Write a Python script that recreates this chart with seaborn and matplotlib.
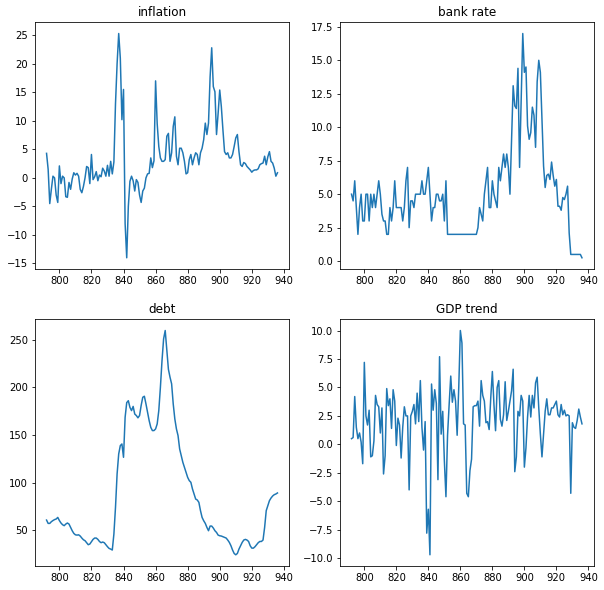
import matplotlib
matplotlib.use("Agg")
import matplotlib.pyplot as plt
import seaborn as sns
import pandas as pd

# one value per year, 792 .. 936
years = list(range(792, 937))

inflation = [
    4.3, 1.5, -4.5, -2, 0.3, 0, -3, -4.3, 2.1, -1,
    0.3, 0, -3.3, -3.4, -0.8, -2, -0.2, 0.9, 0.5, 0.8,
    0.3, -2, -2.6, -1.5, 0, 2, 1.8, -1, 4.1, -0.3,
    0.2, 1.1, -0.5, 0.5, 0.2, 1.7, 1.2, 0.3, 2.2, 0.3,
    2.9, 0.7, 2.8, 13, 20, 25.3, 21, 10.2, 15.5, -8,
    -14, -5, -0.6, 0.3, -0.5, -2.3, -0.3, -0.8, -3, -4.3,
    -2.3, -1.8, 0, 0.7, 0.8, 3.5, 1.8, 3, 17, 9.5,
    5.5, 3.5, 2.9, 2.9, 3.2, 7.3, 7.8, 2.9, 4.4, 9,
    10.7, 3.8, 2.3, 5.2, 5.2, 4.4, 2.9, 0.7, 0.9, 3.2,
    4.1, 2.3, 3.5, 4.4, 4.1, 2.3, 4.4, 5.2, 6.7, 9.6,
    7.6, 9.6, 17.7, 22.8, 16, 15.1, 7.6, 11.3, 15.4, 12.5,
    8.4, 4.6, 4.1, 4.4, 3.5, 3.5, 4.1, 5.5, 7, 7.6,
    4.6, 2.3, 2, 2.7, 2.5, 2, 1.7, 1.4, 1, 1.3,
    1.4, 1.4, 1.6, 2.3, 2.5, 2.6, 3.8, 2.3, 3.7, 4.6,
    2.9, 2.6, 1.7, 0.3, 0.9,
]

bank_rate = [
    5, 4.5, 6, 4, 2, 4, 5, 3, 3, 5,
    5, 3, 5, 4, 5, 4, 5, 6, 5, 3.5,
    3, 3, 2, 2, 4, 3, 4, 6, 4, 4,
    4, 4, 3, 4, 6, 7, 2.5, 4.5, 4.5, 4,
    5, 5, 5, 5, 6, 5, 5, 6, 7, 5,
    3, 4, 4, 5, 5, 4.5, 4.5, 5, 3, 6,
    2, 2, 2, 2, 2, 2, 2, 2, 2, 2,
    2, 2, 2, 2, 2, 2, 2, 2,
    2, 2.5, 4, 3.5, 3, 5, 6, 7, 4, 4,
    6, 5, 4.5, 4, 7, 6, 7, 8, 7, 8,
    7, 5, 9, 13.1, 11.6, 11.4, 14.4, 7, 12, 17,
    14.1, 14.5, 10.1, 9.1, 9.6, 11.5, 10.9, 8.5, 13.4, 15,
    14.1, 10.5, 7.1, 5.5, 6.4, 6.5, 6.1, 7.4, 6.4, 5.6,
    6.1, 4.1, 4.1, 3.8, 4.75, 4.6, 5, 5.6, 2.1, 0.5,
    0.5, 0.5, 0.5, 0.5, 0.5, 0.5, 0.25,
]

debt = [
    60.5, 57, 57, 58.8, 60, 61, 61.6, 63.3, 60, 57.4,
    55.6, 54.6, 56.3, 57.4, 56.3, 52.8, 49.3, 46.5, 45, 44.7,
    45, 43.7, 41.6, 39.8, 38.8, 36.7, 34.6, 35.3, 37.7, 40.2,
    41.6, 41.6, 40.2, 38, 36.7, 37.4, 36.7, 34.6, 32.5, 30.7,
    30, 29, 45.8, 73.9, 109, 130, 138.8, 140.5, 126.5, 168.6,
    184, 186, 179, 175.6, 180, 172, 170.4, 168, 170.4, 181,
    189.6, 190.7, 182.6, 173.9, 165, 158, 154.6, 154.6, 156.3, 161.6,
    175.6, 200, 228, 251, 259.8, 240, 219, 210.7, 203.7, 182.6,
    166.8, 156.3, 149.3, 135.3, 128.2, 121.2, 116, 110.7, 105.4, 102,
    100.2, 93.2, 87.9, 82.6, 81.6, 79.1, 70.4, 63.3, 59.8, 57,
    52.8, 49.3, 54.2, 54.2, 52.1, 49.3, 47.5, 44.7, 44, 43.7,
    43, 42.3, 41.6, 39.5, 37, 33.5, 29, 25.4, 24, 25.4,
    30, 33.5, 37, 39.5, 40.2, 39.5, 38, 33.5, 31, 31,
    32.5, 34.6, 36.7, 38, 38, 39.5, 52.8, 70.4, 75.6, 80.9,
    83.7, 85.8, 87.2, 87.9, 89,
]

gdp_trend = [
    0.5, 0.6, 4.2, 1.5, 0.5, 1.0, 0.2, -1.7, 7.2, 2.5,
    1.7, 3.0, -1.1, -1.0, 0.3, 4.3, 3.5, 3.3, 1.0, 3.2,
    -2.6, -1.0, 4.9, 3.4, 4.0, 1.4, 4.8, 3.8, -0.1, 2.3,
    1.7, -1.2, 1.5, 3.3, 2.5, 2.5, -4.0, 2.5, 2.9, 3.5,
    1.8, 4.5, 2.0, 5.6, 1.5, -0.5, 2.0, -7.8, -5.7, -9.7,
    5.3, 3.0, 4.8, 3.6, -3.1, 7.7, 0.9, 2.9, -1.4, -4.6,
    0.8, 3.5, 6.0, 3.7, 4.8, 3.8, 0.8, 5.0, 10.0, 8.9,
    1.8, 1.7, -4.3, -4.6, -2.3, -1.3, 3.3, 3.4, 3.4, 3.8,
    1.6, 5.6, 4.3, 3.8, 1.9, 2.0, 1.3, 4.1, 6.4, 3.5,
    1.2, 5.0, 5.6, 2.2, 1.6, 2.6, 5.5, 2.1, 2.9, 3.8,
    4.7, 6.6, -2.4, -1.1, 2.9, 2.5, 4.3, 3.8, -2.0, -0.3,
    2.4, 4.3, 2.4, 4.3, 3.2, 5.4, 5.9, 3.2, 0.9, -1.1,
    0.9, 2.9, 4.0, 2.6, 2.6, 3.2, 3.2, 3.5, 3.8, 2.6,
    2.4, 3.5, 2.6, 3.0, 2.5, 2.6, 2.5, -4.3, 1.9, 1.5,
    1.4, 2.1, 3.1, 2.4, 1.8,
]

df = pd.DataFrame({
    "year": years,
    "inflation": inflation,
    "bank rate": bank_rate,
    "debt": debt,
    "GDP trend": gdp_trend,
})

W, H = 604, 590
fig = plt.figure(figsize=(W / 72, H / 72), dpi=72)
fig.patch.set_facecolor("white")

# axes boxes in pixels: left, top, right, bottom
boxes = {
    "inflation": (35, 22.3, 289, 269),
    "bank rate": (340, 22.3, 593.5, 269),
    "debt": (35, 319.3, 289, 566),
    "GDP trend": (340, 319.3, 593.5, 566),
}

for col, (l, t, r, b) in boxes.items():
    ax = fig.add_axes([l / W, 1 - b / H, (r - l) / W, (b - t) / H])
    sns.lineplot(data=df, x="year", y=col, ax=ax, color="#1f77b4", linewidth=1.5)
    ax.set_title(col, fontsize=12)
    ax.set_xlabel("")
    ax.set_ylabel("")
    ax.set_xticks([800, 820, 840, 860, 880, 900, 920, 940])
    ax.tick_params(labelsize=10)

fig.savefig("out.png", dpi=72)
